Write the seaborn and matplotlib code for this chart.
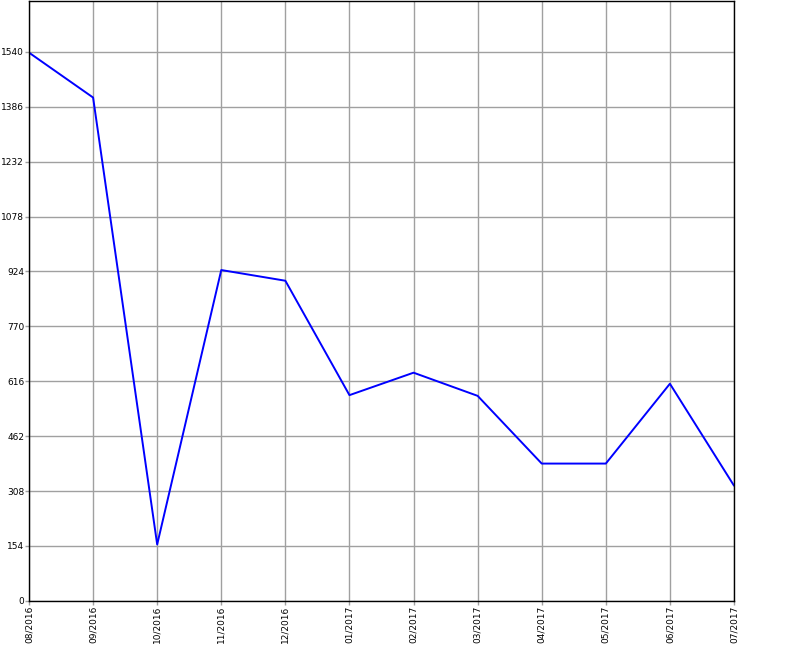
import pandas as pd
import matplotlib
matplotlib.use("Agg")
import matplotlib.pyplot as plt
import seaborn as sns

# --- Data ---
MONTHS = ['08/2016', '09/2016', '10/2016', '11/2016', '12/2016', '01/2017',
          '02/2017', '03/2017', '04/2017', '05/2017', '06/2017', '07/2017']
VALUES = [1538, 1412, 158, 928, 898, 577, 640, 575, 385, 385, 609, 323]
Y_TICKS = [0, 154, 308, 462, 616, 770, 924, 1078, 1232, 1386, 1540]

sns.set_theme(style="white")
plt.rcParams['font.family'] = ['DejaVu Sans']

df = pd.DataFrame({'month': MONTHS, 'value': VALUES})

fig = plt.figure(figsize=(8, 6.5), dpi=100)
ax = fig.add_axes([0.03625, 0.0757, 0.88125, 0.9223])

sns.lineplot(data=df, x='month', y='value', sort=False, color='#0000ff',
             linewidth=1.4, ax=ax)

ax.set_xlim(0, len(MONTHS) - 1)
ax.set_ylim(0, 1682)
ax.set_yticks(Y_TICKS)
ax.set_yticklabels([str(t) for t in Y_TICKS], fontsize=6.5, color='black')
ax.set_xticks(range(len(MONTHS)))
ax.set_xticklabels(MONTHS, rotation=90, fontsize=6.5, color='black')
ax.set_xlabel('')
ax.set_ylabel('')

ax.grid(True, color='#a0a0a0', linewidth=1)
ax.set_axisbelow(True)
for spine in ax.spines.values():
    spine.set_visible(True)
    spine.set_color('black')
    spine.set_linewidth(1)
ax.tick_params(axis='both', which='major', length=3, width=1, color='#a0a0a0',
               pad=0.5, direction='out', bottom=True, left=True)

fig.savefig('out.png', dpi=100)
plt.close(fig)
